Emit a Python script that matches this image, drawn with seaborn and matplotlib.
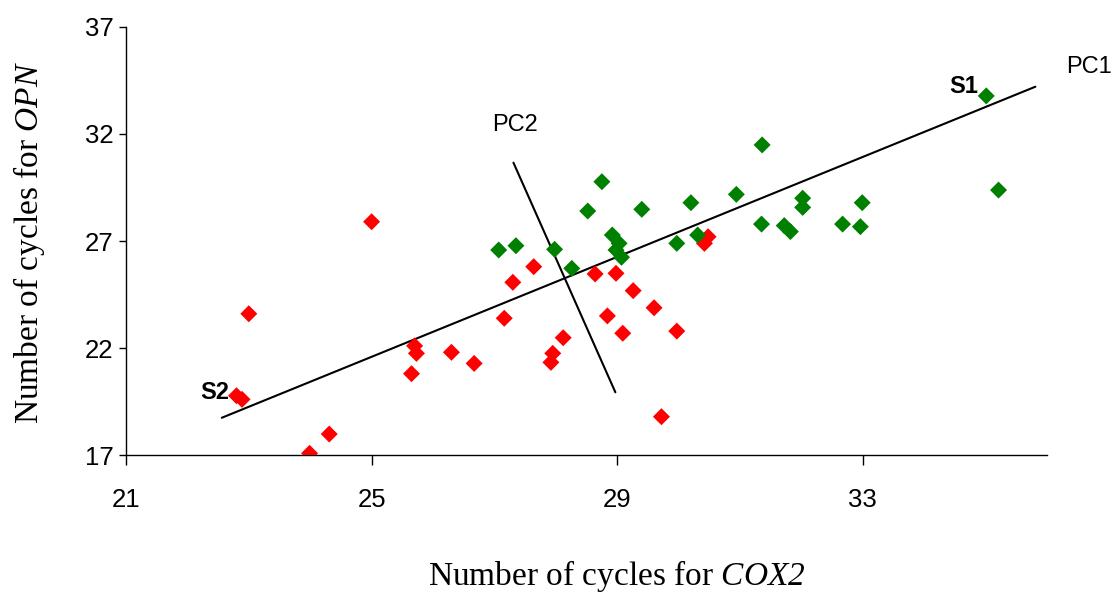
import numpy as np
import pandas as pd
import matplotlib
matplotlib.use("Agg")
import matplotlib.pyplot as plt
import seaborn as sns

# Threshold cycles per sample (COX2 on x, OPN on y)
red_cox2 = [25.0, 23.0, 25.70, 25.73, 25.65, 22.80, 22.89, 24.31, 23.99,
            26.30, 26.67, 27.16, 27.30, 27.64, 28.12, 27.95, 27.92, 28.64,
            28.98, 29.26, 28.84, 29.09, 29.60, 29.97, 29.72, 30.48, 30.42]
red_opn = [27.9, 23.6, 22.1, 21.75, 20.8, 19.77, 19.6, 17.98, 17.08,
           21.8, 21.28, 23.39, 25.07, 25.8, 22.48, 21.75, 21.33, 25.46,
           25.49, 24.68, 23.50, 22.69, 23.88, 22.79, 18.79, 27.2, 26.89]

green_cox2 = [27.07, 27.35, 27.98, 28.26, 28.52, 28.75, 28.92, 29.03, 28.98,
              29.07, 29.40, 29.97, 30.20, 30.31, 30.94, 31.36, 31.35, 31.72,
              31.82, 32.02, 32.02, 32.67, 32.96, 32.99, 35.01, 35.21]
green_opn = [26.58, 26.78, 26.61, 25.72, 28.40, 29.77, 27.28, 26.89, 26.58,
             26.24, 28.48, 26.89, 28.79, 27.28, 29.18, 31.49, 27.79, 27.72,
             27.44, 29.0, 28.57, 27.79, 27.67, 28.79, 33.78, 29.38]

# Principal component axes (end points)
pc1_x = [22.56, 35.81]
pc1_y = [18.74, 34.21]
pc2_x = [27.31, 28.97]
pc2_y = [30.66, 19.93]

x_ticks = [21, 25, 29, 33]
y_ticks = [17, 22, 27, 32, 37]

df = pd.DataFrame({
    "cox2": red_cox2 + green_cox2,
    "opn": red_opn + green_opn,
    "group": ["red"] * len(red_cox2) + ["green"] * len(green_cox2),
})

sns.set_style("ticks")
plt.rcParams["font.family"] = ["Liberation Sans", "DejaVu Sans"]
plt.rcParams["text.color"] = "black"
plt.rcParams["axes.labelcolor"] = "black"
# gene names in the axis titles are set fully in italic serif (digits too)
plt.rcParams["mathtext.fontset"] = "custom"
plt.rcParams["mathtext.it"] = "Liberation Serif:italic"
plt.rcParams["mathtext.rm"] = "Liberation Serif:italic"

fig = plt.figure(figsize=(11.14, 5.92), dpi=100)
ax = fig.add_axes([0.1131, 0.2314, 0.8268, 0.723])

sns.scatterplot(data=df, x="cox2", y="opn", hue="group",
                palette={"red": "#ff0000", "green": "#008000"},
                marker="D", s=75, linewidth=0, legend=False, ax=ax, zorder=3)

ax.plot(pc1_x, pc1_y, color="black", lw=1.5, zorder=2)
ax.plot(pc2_x, pc2_y, color="black", lw=1.5, zorder=2)

ax.set_xlim(21, 36)
ax.set_ylim(17, 37)
ax.set_xticks(x_ticks)
ax.set_yticks(y_ticks)
ax.tick_params(axis="both", direction="out", width=1,
               labelsize=18.5, color="black", labelcolor="black")
ax.tick_params(axis="x", length=7, pad=17)
ax.tick_params(axis="y", length=5, pad=4)

for side in ["top", "right"]:
    ax.spines[side].set_visible(False)
for side in ["left", "bottom"]:
    ax.spines[side].set_color("black")
    ax.spines[side].set_linewidth(1)

ax.set_xlabel("Number of cycles for $\\it{COX2}$", family="Liberation Serif",
              fontsize=24)
ax.set_ylabel("Number of cycles for $\\it{OPN}$", family="Liberation Serif",
              fontsize=24)
ax.xaxis.set_label_coords(0.533, -0.24)
ax.yaxis.set_label_coords(-0.0858, 0.497)

ax.text(22.68, 19.94, "S2", fontsize=17, fontweight="bold", ha="right", va="center")
ax.text(34.88, 34.2, "S1", fontsize=17, fontweight="bold", ha="right", va="center")
ax.text(27.34, 32.42, "PC2", fontsize=17, ha="center", va="center")
ax.text(36.31, 35.13, "PC1", fontsize=17, ha="left", va="center", clip_on=False)

fig.savefig("out.png", dpi=100)
